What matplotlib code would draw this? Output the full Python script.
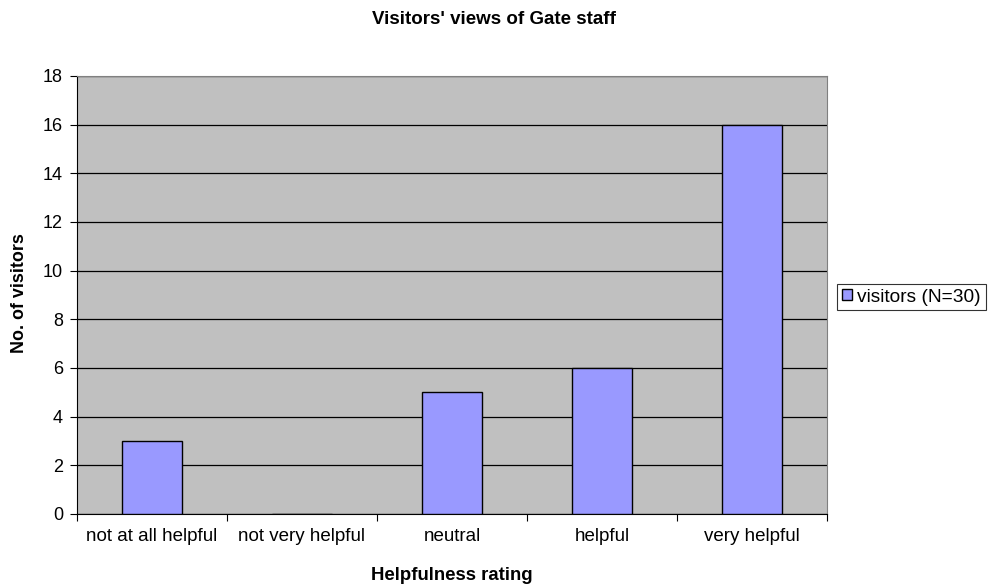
import matplotlib
matplotlib.use("Agg")
import matplotlib.pyplot as plt
import numpy as np
from matplotlib.patches import Patch

categories = ["not at all helpful", "not very helpful", "neutral", "helpful", "very helpful"]
visitors = [3, 0, 5, 6, 16]
yticks = [0, 2, 4, 6, 8, 10, 12, 14, 16, 18]

plt.rcParams['font.family'] = ['Liberation Sans', 'DejaVu Sans']

W, H = 989, 584
fig = plt.figure(figsize=(W/100, H/100), dpi=100)
ax = fig.add_axes([77/W, (H-514)/H, 750/W, 438/H])
ax.set_facecolor('#C0C0C0')

x = np.arange(len(categories))
ax.bar(x, visitors, width=0.4, color='#9999FF', edgecolor='black', linewidth=1.0, zorder=3)

ax.set_xlim(-0.5, len(categories) - 0.5)
ax.set_ylim(0, 18)
ax.set_yticks(yticks)
ax.yaxis.grid(True, color='black', linewidth=0.9, zorder=1)
ax.set_axisbelow(True)

ax.set_xticks(np.arange(-0.5, len(categories), 1.0))
ax.set_xticklabels([])
ax.set_xticks(x, minor=True)
ax.set_xticklabels(categories, minor=True, fontsize=13.5)
ax.tick_params(axis='x', which='minor', length=0, pad=10)
ax.tick_params(axis='x', which='major', length=5, width=0.8)
ax.tick_params(axis='y', length=5, width=0.8, labelsize=13, pad=5)

for s in ['top', 'right']:
    ax.spines[s].set_color('#808080')
for s in ['left', 'bottom']:
    ax.spines[s].set_color('black')

fig.text(494/W, 1 - 20/H, "Visitors' views of Gate staff",
         ha='center', va='center', fontsize=13.5, fontweight='bold')
fig.text(452/W, 1 - 575/H, 'Helpfulness rating',
         ha='center', va='center', fontsize=13.4, fontweight='bold')
fig.text(20/W, 1 - 293/H, 'No. of visitors', rotation=90,
         ha='center', va='center', fontsize=12.9, fontweight='bold')

handles = [Patch(facecolor='#9999FF', edgecolor='black', label='visitors (N=30)')]
leg = fig.legend(handles=handles, loc='center left', bbox_to_anchor=(837/W, 1 - 297/H),
                 fontsize=13.8, frameon=True, fancybox=False, handlelength=0.55, handleheight=0.55,
                 handletextpad=0.25, borderpad=0.25, borderaxespad=0)
leg.get_frame().set_edgecolor('black')
leg.get_frame().set_linewidth(0.8)

fig.savefig('out.png', dpi=100)
